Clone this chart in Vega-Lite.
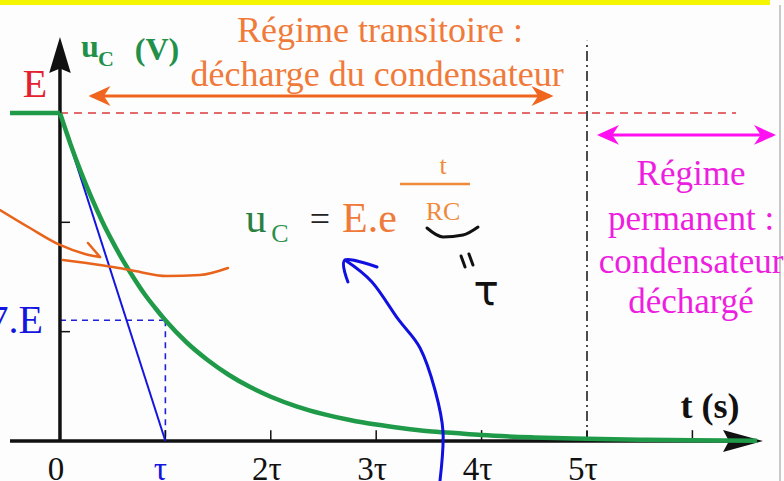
{
  "$schema": "https://vega.github.io/schema/vega-lite/v6.json",
  "width": 784,
  "height": 481,
  "autosize": {"type": "none"},
  "padding": 0,
  "background": "#fdfdfd",
  "config": {
    "font": "'Liberation Serif', 'Times New Roman', serif",
    "view": {"stroke": null},
    "text": {"font": "'Liberation Serif', 'Times New Roman', serif", "baseline": "alphabetic"}
  },
  "encoding": {
    "x": {"field": "t", "type": "quantitative", "scale": {"domain": [-0.569, 6.869], "nice": false, "zero": false}, "axis": null},
    "y": {"field": "v", "type": "quantitative", "scale": {"domain": [-0.122, 1.3445], "nice": false, "zero": false}, "axis": null}
  },
  "layer": [
    {
      "data": {"values": [{"t": -0.569, "t2": 6.736, "v": 1.3293, "v2": 1.3445}]},
      "mark": {"type": "rect", "color": "#f5f500"},
      "encoding": {"x2": {"field": "t2"}, "y2": {"field": "v2"}}
    },
    {
      "data": {"values": [{"t": 6.831, "v": -0.122, "v2": 1.3293}]},
      "mark": {"type": "rule", "color": "#b8b8b8", "strokeWidth": 1.5},
      "encoding": {"y2": {"field": "v2"}}
    },
    {
      "data": {"values": [{"t": 0, "t2": 6.414, "v": 1}]},
      "mark": {"type": "rule", "color": "#d83a3a", "strokeWidth": 1.5, "strokeDash": [8, 6]},
      "encoding": {"x2": {"field": "t2"}}
    },
    {
      "data": {"values": [{"t": 5, "v": 0, "v2": 1.22}]},
      "mark": {"type": "rule", "color": "#111111", "strokeWidth": 1.5, "strokeDash": [10, 4, 2, 4]},
      "encoding": {"y2": {"field": "v2"}}
    },
    {
      "data": {"values": [
        {"t": 0, "t2": 1, "v": 0.368, "v2": 0.368},
        {"t": 1, "t2": 1, "v": 0.368, "v2": 0}
      ]},
      "mark": {"type": "rule", "color": "#2020d8", "strokeWidth": 1.6, "strokeDash": [6, 5]},
      "encoding": {"x2": {"field": "t2"}, "y2": {"field": "v2"}}
    },
    {
      "data": {"values": [
        {"t": 1, "v": 0, "v2": 0.033}, {"t": 2, "v": 0, "v2": 0.033}, {"t": 3, "v": 0, "v2": 0.033},
        {"t": 4, "v": 0, "v2": 0.033}, {"t": 5, "v": 0, "v2": 0.033}, {"t": 6, "v": 0, "v2": 0.033}
      ]},
      "mark": {"type": "rule", "color": "#111111", "strokeWidth": 1.5},
      "encoding": {"y2": {"field": "v2"}}
    },
    {
      "data": {"values": [
        {"t": 0, "t2": 0.095, "v": 0.3333},
        {"t": 0, "t2": 0.095, "v": 0.6667}
      ]},
      "mark": {"type": "rule", "color": "#111111", "strokeWidth": 1.5},
      "encoding": {"x2": {"field": "t2"}}
    },
    {
      "data": {"values": [
        {"t": -0.474, "t2": 6.5, "v": 0, "v2": 0},
        {"t": 0, "t2": 0, "v": 0, "v2": 1.17}
      ]},
      "mark": {"type": "rule", "color": "#111111", "strokeWidth": 3.5},
      "encoding": {"x2": {"field": "t2"}, "y2": {"field": "v2"}}
    },
    {
      "data": {"values": [{"t": 6.48, "v": 0}]},
      "mark": {"type": "point", "shape": "M1,0L-1,-0.55L-0.7,0L-1,0.55Z", "size": 1600, "filled": true, "color": "#111111", "opacity": 1, "strokeWidth": 0}
    },
    {
      "data": {"values": [{"t": 0, "v": 1.177}]},
      "mark": {"type": "point", "shape": "M0,-1L-0.6,1L0,0.75L0.6,1Z", "size": 1296, "filled": true, "color": "#111111", "opacity": 1, "strokeWidth": 0}
    },
    {
      "data": {"values": [{"t": 0, "v": 1}, {"t": 1, "v": 0}]},
      "mark": {"type": "line", "color": "#1515e0", "strokeWidth": 2}
    },
    {
      "data": {"values": [{"t": -0.474, "t2": 0, "v": 1}]},
      "mark": {"type": "rule", "color": "#1f9a48", "strokeWidth": 4.5},
      "encoding": {"x2": {"field": "t2"}}
    },
    {
      "data": {"values": [
        {"t": 0, "v": 1}, {"t": 0.1, "v": 0.905}, {"t": 0.2, "v": 0.819}, {"t": 0.3, "v": 0.741},
        {"t": 0.4, "v": 0.67}, {"t": 0.5, "v": 0.607}, {"t": 0.6, "v": 0.549}, {"t": 0.7, "v": 0.497},
        {"t": 0.8, "v": 0.449}, {"t": 0.9, "v": 0.407}, {"t": 1, "v": 0.368}, {"t": 1.2, "v": 0.301},
        {"t": 1.4, "v": 0.247}, {"t": 1.6, "v": 0.202}, {"t": 1.8, "v": 0.165}, {"t": 2, "v": 0.135},
        {"t": 2.25, "v": 0.105}, {"t": 2.5, "v": 0.082}, {"t": 2.75, "v": 0.064}, {"t": 3, "v": 0.05},
        {"t": 3.25, "v": 0.039}, {"t": 3.5, "v": 0.03}, {"t": 3.75, "v": 0.024}, {"t": 4, "v": 0.018},
        {"t": 4.5, "v": 0.011}, {"t": 5, "v": 0.007}, {"t": 5.5, "v": 0.004}, {"t": 6, "v": 0.002},
        {"t": 6.613, "v": 0.001}
      ]},
      "mark": {"type": "line", "color": "#1f9a48", "strokeWidth": 4.5, "interpolate": "monotone"}
    },
    {
      "data": {"values": [{"t": 0.3, "t2": 4.65, "v": 1.0518}]},
      "mark": {"type": "rule", "color": "#f0661e", "strokeWidth": 3},
      "encoding": {"x2": {"field": "t2"}}
    },
    {
      "data": {"values": [{"t": 0.375, "v": 1.0518}]},
      "mark": {"type": "point", "shape": "M-1,0L1,-0.9L0.4,0L1,0.9Z", "size": 484, "filled": true, "color": "#f0661e", "opacity": 1, "strokeWidth": 0}
    },
    {
      "data": {"values": [{"t": 4.578, "v": 1.0518}]},
      "mark": {"type": "point", "shape": "M1,0L-1,-0.9L-0.4,0L-1,0.9Z", "size": 484, "filled": true, "color": "#f0661e", "opacity": 1, "strokeWidth": 0}
    },
    {
      "data": {"values": [{"t": 5.13, "t2": 6.76, "v": 0.933}]},
      "mark": {"type": "rule", "color": "#ff10f0", "strokeWidth": 3},
      "encoding": {"x2": {"field": "t2"}}
    },
    {
      "data": {"values": [{"t": 5.199, "v": 0.933}]},
      "mark": {"type": "point", "shape": "M-1,0L1,-0.9L0.4,0L1,0.9Z", "size": 484, "filled": true, "color": "#ff10f0", "opacity": 1, "strokeWidth": 0}
    },
    {
      "data": {"values": [{"t": 6.689, "v": 0.933}]},
      "mark": {"type": "point", "shape": "M1,0L-1,-0.9L-0.4,0L-1,0.9Z", "size": 484, "filled": true, "color": "#ff10f0", "opacity": 1, "strokeWidth": 0}
    },
    {
      "data": {"values": [{"t": 3.226, "t2": 3.89, "v": 0.7835}]},
      "mark": {"type": "rule", "color": "#f08a3a", "strokeWidth": 2.5},
      "encoding": {"x2": {"field": "t2"}}
    },
    {
      "data": {"values": [
        {"s": "a", "i": 0, "t": -0.569, "v": 0.7043}, {"s": "a", "i": 1, "t": -0.285, "v": 0.6494},
        {"s": "a", "i": 2, "t": 0, "v": 0.5976}, {"s": "a", "i": 3, "t": 0.2372, "v": 0.5701},
        {"s": "a", "i": 4, "t": 0.3795, "v": 0.561},
        {"s": "b", "i": 0, "t": 0.2657, "v": 0.6037}, {"s": "b", "i": 1, "t": 0.3795, "v": 0.561},
        {"s": "c", "i": 0, "t": 0.0285, "v": 0.5518}, {"s": "c", "i": 1, "t": 0.3795, "v": 0.5366},
        {"s": "c", "i": 2, "t": 0.6641, "v": 0.5213}, {"s": "c", "i": 3, "t": 1.0152, "v": 0.503},
        {"s": "c", "i": 4, "t": 1.3283, "v": 0.5061}, {"s": "c", "i": 5, "t": 1.5939, "v": 0.5274}
      ]},
      "mark": {"type": "line", "color": "#e8641c", "strokeWidth": 2.5, "interpolate": "monotone", "strokeCap": "round"},
      "encoding": {"detail": {"field": "s", "type": "nominal"}, "order": {"field": "i", "type": "quantitative"}}
    },
    {
      "data": {"values": [
        {"s": "a", "i": 0, "t": 2.704, "v": 0.5518}, {"s": "a", "i": 1, "t": 2.96, "v": 0.4848},
        {"s": "a", "i": 2, "t": 3.207, "v": 0.372}, {"s": "a", "i": 3, "t": 3.416, "v": 0.2835},
        {"s": "a", "i": 4, "t": 3.558, "v": 0.1555}, {"s": "a", "i": 5, "t": 3.634, "v": 0.0274},
        {"s": "a", "i": 6, "t": 3.605, "v": -0.122},
        {"s": "b", "i": 0, "t": 2.732, "v": 0.4848}, {"s": "b", "i": 1, "t": 2.704, "v": 0.5518},
        {"s": "b", "i": 2, "t": 3.008, "v": 0.5305}
      ]},
      "mark": {"type": "line", "color": "#1010e0", "strokeWidth": 3, "interpolate": "cardinal", "strokeCap": "round"},
      "encoding": {"detail": {"field": "s", "type": "nominal"}, "order": {"field": "i", "type": "quantitative"}}
    },
    {
      "data": {"values": [
        {"s": "a", "i": 0, "t": 3.482, "v": 0.6494}, {"s": "a", "i": 1, "t": 3.634, "v": 0.622},
        {"s": "a", "i": 2, "t": 3.824, "v": 0.628}, {"s": "a", "i": 3, "t": 3.966, "v": 0.6524},
        {"s": "b", "i": 0, "t": 3.805, "v": 0.564}, {"s": "b", "i": 1, "t": 3.843, "v": 0.5305},
        {"s": "c", "i": 0, "t": 3.88, "v": 0.57}, {"s": "c", "i": 1, "t": 3.918, "v": 0.5366}
      ]},
      "mark": {"type": "line", "color": "#111111", "strokeWidth": 3, "interpolate": "monotone", "strokeCap": "round"},
      "encoding": {"detail": {"field": "s", "type": "nominal"}, "order": {"field": "i", "type": "quantitative"}}
    },
    {
      "data": {"values": [{"t": -0.237, "v": 1.049, "label": "E"}]},
      "mark": {"type": "text", "fontSize": 40, "color": "#e5202e"},
      "encoding": {"text": {"field": "label"}}
    },
    {
      "data": {"values": [{"t": 0.2846, "v": 1.1707, "label": "u"}, {"t": 0.9203, "v": 1.1616, "label": "(V)"}]},
      "mark": {"type": "text", "fontSize": 32, "fontWeight": "bold", "color": "#23904a"},
      "encoding": {"text": {"field": "label"}}
    },
    {
      "data": {"values": [{"t": 0.4364, "v": 1.1433, "label": "C"}]},
      "mark": {"type": "text", "fontSize": 22, "fontWeight": "bold", "color": "#23904a"},
      "encoding": {"text": {"field": "label"}}
    },
    {
      "data": {"values": [
        {"t": 3.036, "v": 1.2165, "label": "Régime transitoire :"},
        {"t": 3.008, "v": 1.0823, "label": "décharge du condensateur"}
      ]},
      "mark": {"type": "text", "fontSize": 36, "color": "#f07a3a"},
      "encoding": {"text": {"field": "label"}}
    },
    {
      "data": {"values": [{"t": 1.8596, "v": 0.6372, "label": "u"}]},
      "mark": {"type": "text", "fontSize": 42, "color": "#2a8040"},
      "encoding": {"text": {"field": "label"}}
    },
    {
      "data": {"values": [{"t": 2.087, "v": 0.6067, "label": "C"}]},
      "mark": {"type": "text", "fontSize": 26, "color": "#2a9048"},
      "encoding": {"text": {"field": "label"}}
    },
    {
      "data": {"values": [{"t": 2.467, "v": 0.6402, "label": "="}]},
      "mark": {"type": "text", "fontSize": 36, "color": "#222222"},
      "encoding": {"text": {"field": "label"}}
    },
    {
      "data": {"values": [{"t": 2.6755, "v": 0.6372, "label": "E.e"}]},
      "mark": {"type": "text", "fontSize": 42, "align": "left", "color": "#f07a3a"},
      "encoding": {"text": {"field": "label"}}
    },
    {
      "data": {"values": [{"t": 3.634, "v": 0.814, "label": "t"}, {"t": 3.634, "v": 0.6738, "label": "RC"}]},
      "mark": {"type": "text", "fontSize": 26, "color": "#f08a3a"},
      "encoding": {"text": {"field": "label"}}
    },
    {
      "data": {"values": [{"t": 4.042, "v": 0.4146, "label": "τ"}]},
      "mark": {"type": "text", "fontSize": 42, "font": "DejaVu Sans", "color": "#111111"},
      "encoding": {"text": {"field": "label"}}
    },
    {
      "data": {"values": [
        {"t": 5.987, "v": 0.7805, "label": "Régime"},
        {"t": 5.987, "v": 0.6433, "label": "permanent :"},
        {"t": 5.987, "v": 0.5122, "label": "condensateur"},
        {"t": 5.987, "v": 0.3902, "label": "déchargé"}
      ]},
      "mark": {"type": "text", "fontSize": 35, "color": "#ee1ee0"},
      "encoding": {"text": {"field": "label"}}
    },
    {
      "data": {"values": [
        {"t": 0, "v": -0.1189, "label": "0"},
        {"t": 2, "v": -0.1189, "label": "2τ"},
        {"t": 3, "v": -0.1189, "label": "3τ"},
        {"t": 4, "v": -0.1189, "label": "4τ"},
        {"t": 5, "v": -0.1189, "label": "5τ"}
      ]},
      "mark": {"type": "text", "fontSize": 33, "dx": -4, "color": "#111111"},
      "encoding": {"text": {"field": "label"}}
    },
    {
      "data": {"values": [{"t": 1, "v": -0.1189, "label": "τ"}]},
      "mark": {"type": "text", "fontSize": 33, "dx": -5, "color": "#1515e0"},
      "encoding": {"text": {"field": "label"}}
    },
    {
      "data": {"values": [{"t": -0.1613, "v": 0.3293, "label": "0,37.E"}]},
      "mark": {"type": "text", "fontSize": 40, "align": "right", "color": "#1515e0"},
      "encoding": {"text": {"field": "label"}}
    },
    {
      "data": {"values": [{"t": 6.167, "v": 0.0701, "label": "t (s)"}]},
      "mark": {"type": "text", "fontSize": 36, "fontWeight": "bold", "color": "#111111"},
      "encoding": {"text": {"field": "label"}}
    }
  ]
}
